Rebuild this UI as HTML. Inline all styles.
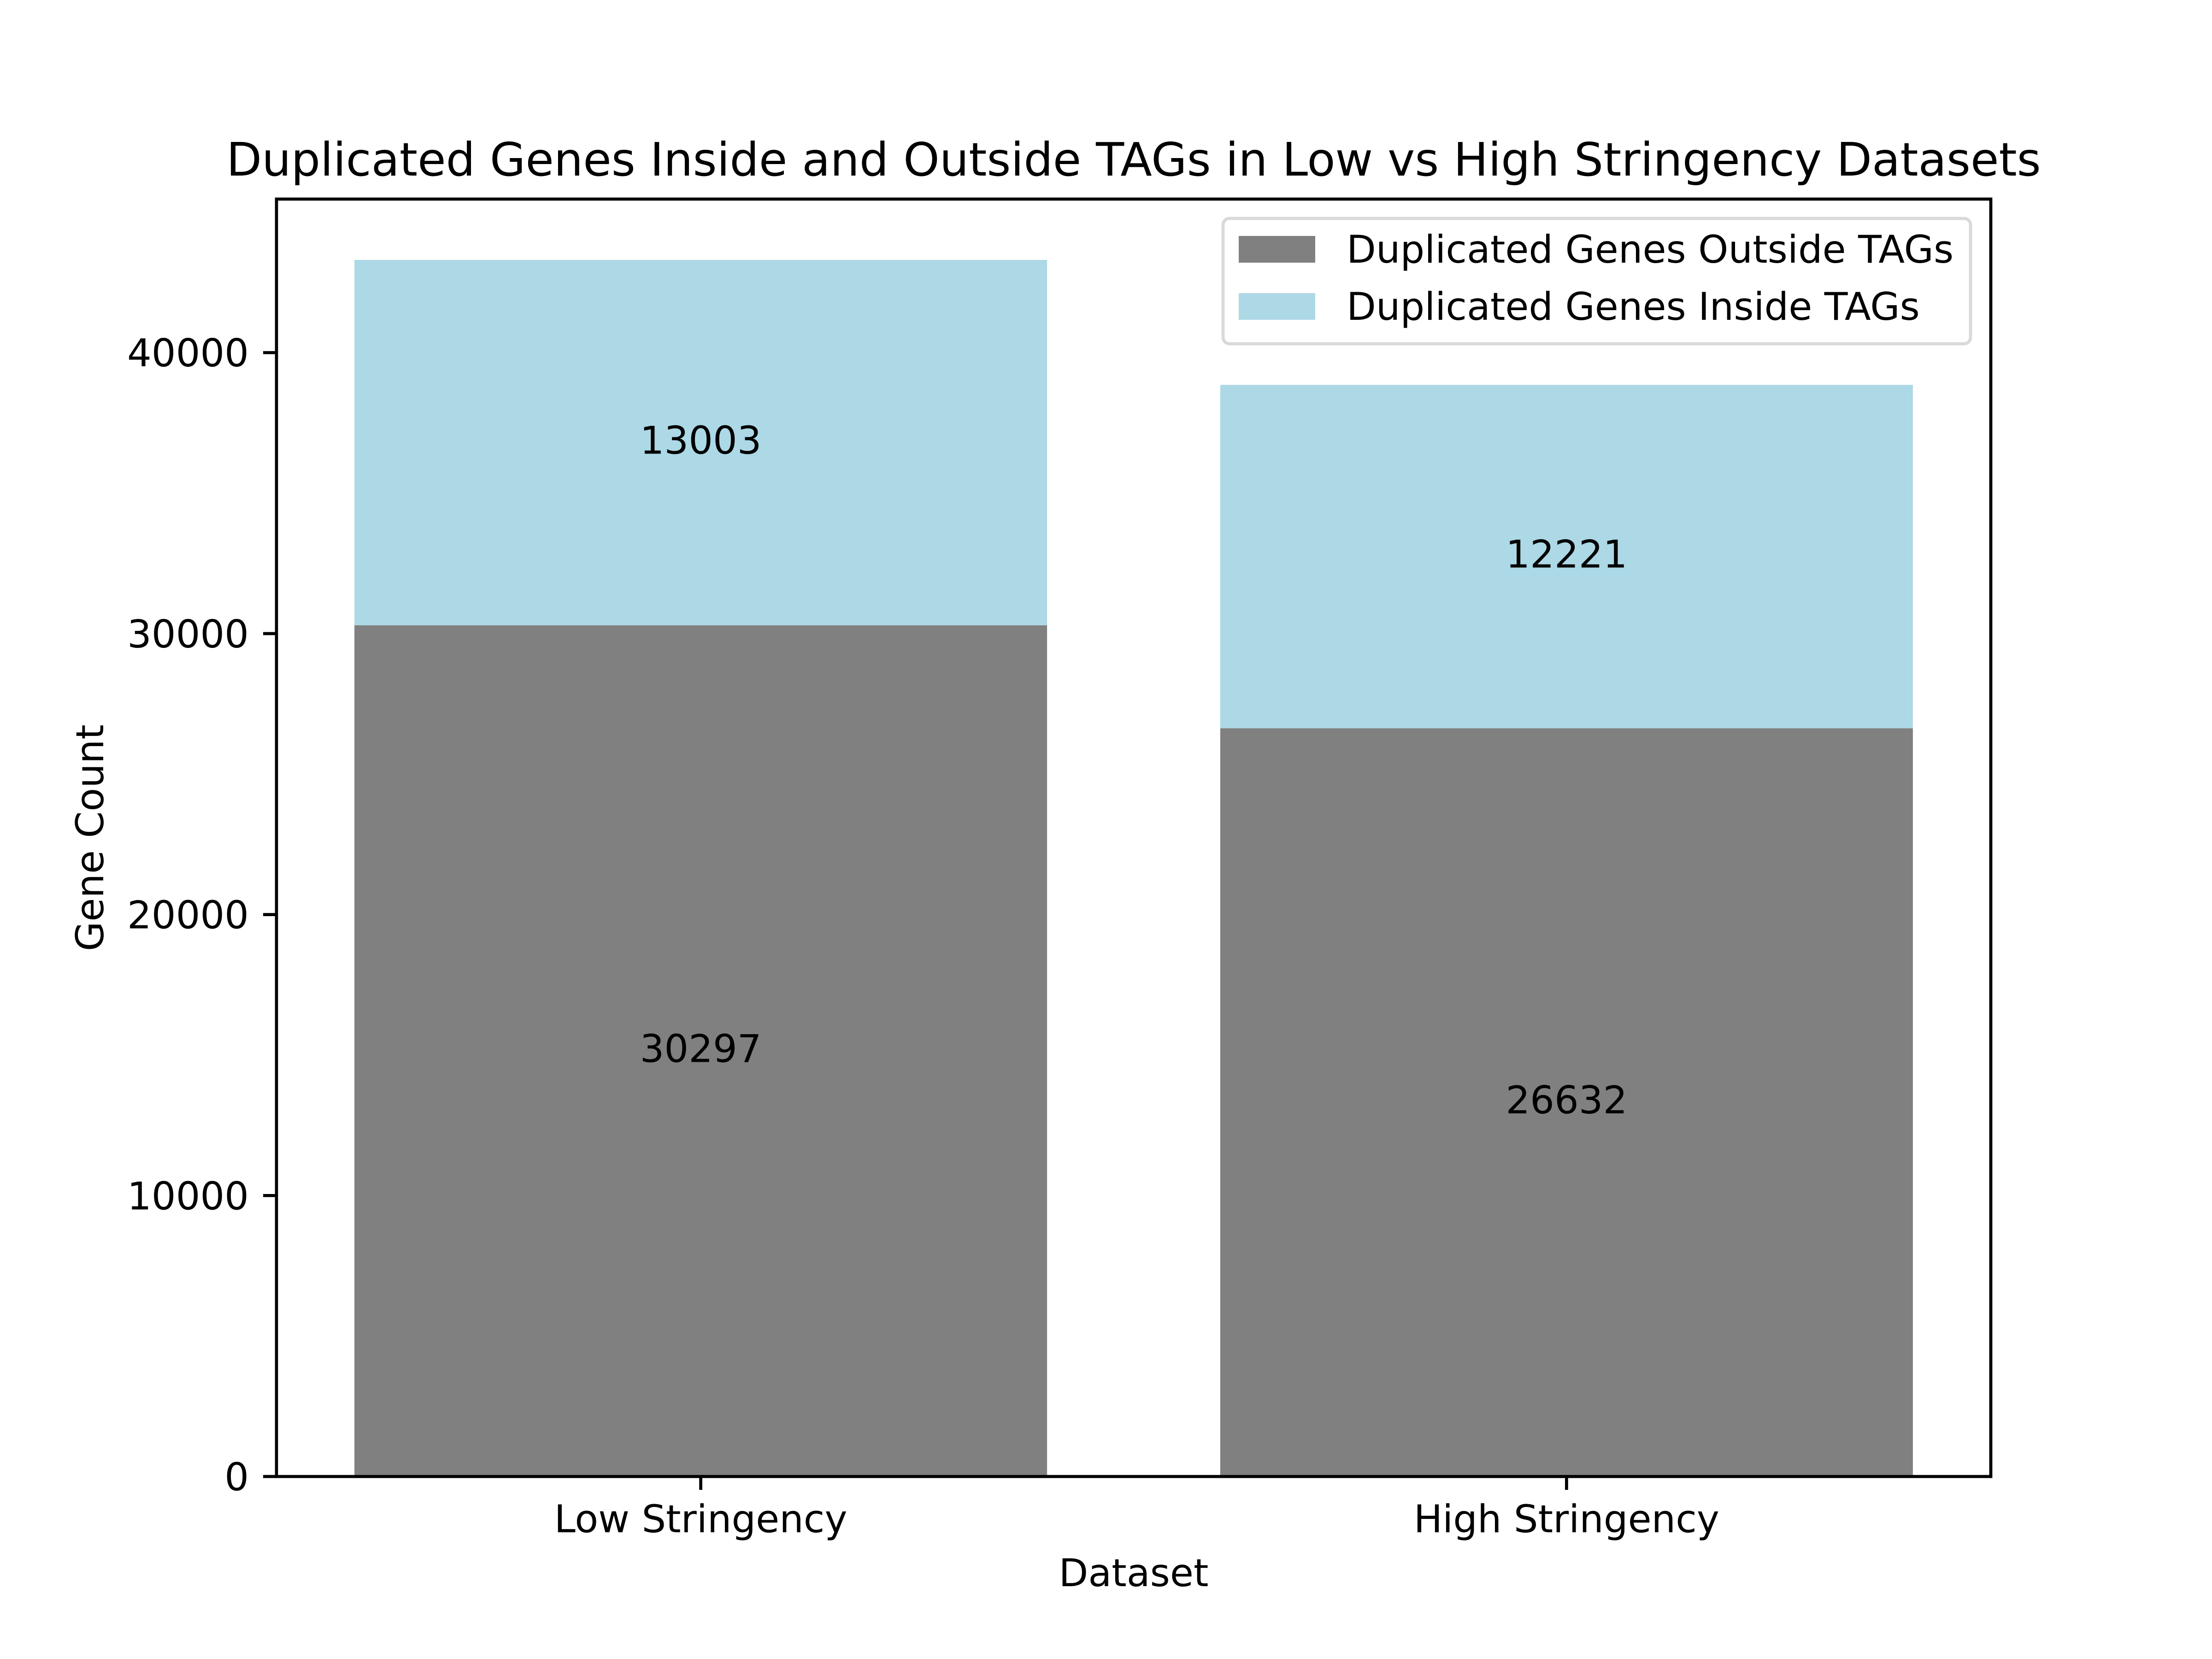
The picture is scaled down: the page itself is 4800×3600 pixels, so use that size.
<!DOCTYPE html>
<html><head><meta charset="utf-8"><style>
html,body{margin:0;padding:0;background:#fff;}
svg{display:block;}
text{font-family:"DejaVu Sans","Liberation Sans",sans-serif;fill:#000;}
</style></head><body>
<svg id="chart" width="4800" height="3600" viewBox="0 0 4800 3600" xmlns="http://www.w3.org/2000/svg">
<rect x="0" y="0" width="4800" height="3600" fill="#fff"/>
<g id="marks"></g>
<g id="axes"></g>
</svg>
<script>
const categories = ["Low Stringency", "High Stringency"];
const outsideValues = [30297, 26632];
const insideValues = [13003, 12221];
const yTicks = [0, 10000, 20000, 30000, 40000];
const seriesNames = ["Duplicated Genes Outside TAGs", "Duplicated Genes Inside TAGs"];

const NS = "http://www.w3.org/2000/svg";
const L = 600, R = 4320, T = 432, B = 3204;
const totals = categories.map((c, i) => outsideValues[i] + insideValues[i]);
const yMax = Math.max(...totals) * 1.05;
const xMin = -0.49, xMax = categories.length - 1 + 0.49;
function xs(v){ return L + (v - xMin) / (xMax - xMin) * (R - L); }
function ys(v){ return B - v / yMax * (B - T); }
function mk(tag, attrs, parent, txt){
  const e = document.createElementNS(NS, tag);
  for (const k in attrs) e.setAttribute(k, attrs[k]);
  if (txt !== undefined) e.textContent = txt;
  parent.appendChild(e);
  return e;
}
const marks = document.getElementById('marks');
const axes = document.getElementById('axes');
const bw = 0.8;
categories.forEach((c, i) => {
  const x0 = xs(i - bw/2), x1 = xs(i + bw/2);
  const r1 = mk('rect', {x:x0, y:ys(outsideValues[i]), width:x1-x0, height:ys(0)-ys(outsideValues[i]), fill:'#808080'}, marks);
  
  
  const top = outsideValues[i] + insideValues[i];
  const r2 = mk('rect', {x:x0, y:ys(top), width:x1-x0, height:ys(outsideValues[i])-ys(top), fill:'#add8e6'}, marks);
  
  
  const t1 = mk('text', {x:xs(i), y:ys(outsideValues[i]/2)+24, 'font-size':83, 'text-anchor':'middle'}, marks, String(outsideValues[i]));
  
  
  const t2 = mk('text', {x:xs(i), y:ys(outsideValues[i] + insideValues[i]/2)+24, 'font-size':83, 'text-anchor':'middle'}, marks, String(insideValues[i]));
  
  
  const tk = mk('line', {x1:xs(i), x2:xs(i), y1:B, y2:B+29, stroke:'#000', 'stroke-width':6.7}, axes);
  
  
  const tl = mk('text', {x:xs(i), y:3325, 'font-size':83, 'text-anchor':'middle'}, axes, c);
  
  
});
yTicks.forEach((v, j) => {
  const tk = mk('line', {x1:L-29, x2:L, y1:ys(v), y2:ys(v), stroke:'#000', 'stroke-width':6.7}, axes);
  
  
  const tl = mk('text', {x:540, y:ys(v)+30, 'font-size':83, 'text-anchor':'end'}, axes, String(v));
  
  
});
const frame = mk('rect', {x:L, y:T, width:R-L, height:B-T, fill:'none', stroke:'#000', 'stroke-width':6.7}, axes);


const title = mk('text', {x:(L+R)/2, y:381, 'font-size':100, 'text-anchor':'middle'}, axes, 'Duplicated Genes Inside and Outside TAGs in Low vs High Stringency Datasets');


const xl = mk('text', {x:(L+R)/2, y:3442, 'font-size':83, 'text-anchor':'middle'}, axes, 'Dataset');


const yl = mk('text', {x:0, y:0, 'font-size':83, 'text-anchor':'middle', transform:'translate(224,1818) rotate(-90)'}, axes, 'Gene Count');


const lg = mk('g', {}, axes);


const lb = mk('rect', {x:2654, y:474, width:1622, height:272, rx:14, fill:'#fff', 'fill-opacity':0.8, stroke:'#d9d9d9', 'stroke-width':6.7}, lg);


const colors = ['#808080', '#add8e6'];
const rowY = [570, 694];
seriesNames.forEach((s, k) => {
  const p = mk('rect', {x:2688, y:rowY[k]-58, width:166, height:58, fill:colors[k]}, lg);
  
  
  const t = mk('text', {x:2922, y:rowY[k], 'font-size':83}, lg, s);
  
  
});
</script>
</body></html>
